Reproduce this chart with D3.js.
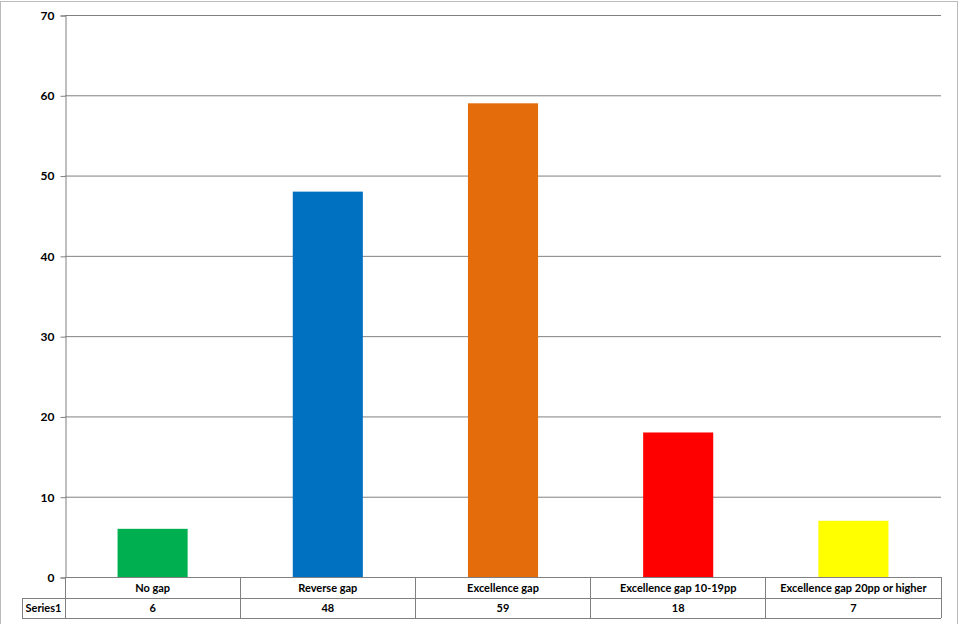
<!DOCTYPE html><html><head><meta charset="utf-8"><script src="https://cdn.jsdelivr.net/npm/d3@7"></script>
<style>body{margin:0;background:#fff}text{font-family:Lato,sans-serif;font-weight:bold;font-size:11px;fill:#000}</style></head><body>
<svg id="c" width="960" height="624"></svg>
<script>
const categories=["No gap","Reverse gap","Excellence gap","Excellence gap 10-19pp","Excellence gap 20pp or higher"];
const values=[6,48,59,18,7];
const colors=["#00b050","#0070c0","#e46c0a","#ff0000","#ffff00"];
const seriesName="Series1";
const yTicks=[0,10,20,30,40,50,60,70];
const svg=d3.select("#c");
const L=65,R=941,T=15,B=577;
svg.append("rect").attr("x",0.5).attr("y",1.5).attr("width",957).attr("height",640).attr("fill","none").attr("stroke","#bbb");
const x=d3.scaleBand().domain(categories).range([L,R]).paddingInner(0.6).paddingOuter(0.3);
const xb=d3.scaleBand().domain(categories).range([L,R]);
const y=d3.scaleLinear().domain([0,70]).range([B,T]);
const g=svg.append("g");
g.selectAll("line.grid").data(yTicks.slice(1)).join("line").attr("x1",L).attr("x2",R).attr("y1",d=>y(d)+0.5).attr("y2",d=>y(d)+0.5).attr("stroke","#808080");
const ya=svg.append("g").attr("transform",`translate(${L+0.5},0.5)`).call(d3.axisLeft(y).tickValues(yTicks).tickSize(5).tickPadding(6));
ya.select(".domain").attr("stroke","#808080");ya.selectAll("line").attr("stroke","#808080");
ya.selectAll("text").style("font-size","12px");
svg.selectAll("rect.bar").data(values).join("rect").attr("x",(d,i)=>x(categories[i])).attr("width",x.bandwidth()).attr("y",d=>y(d)).attr("height",d=>B-y(d)).attr("fill",(d,i)=>colors[i]);
// table
const r1=598,r2=618,lc="#808080";
const tg=svg.append("g").attr("stroke",lc).attr("shape-rendering","crispEdges");
tg.append("line").attr("x1",L).attr("x2",R).attr("y1",B).attr("y2",B);
tg.append("line").attr("x1",22).attr("x2",R).attr("y1",r1).attr("y2",r1);
tg.append("line").attr("x1",22).attr("x2",R).attr("y1",r2).attr("y2",r2);
tg.append("line").attr("x1",22).attr("x2",22).attr("y1",r1).attr("y2",r2);
tg.append("line").attr("x1",L).attr("x2",L).attr("y1",B).attr("y2",r2);
categories.forEach(c=>{tg.append("line").attr("x1",xb(c)+xb.bandwidth()).attr("x2",xb(c)+xb.bandwidth()).attr("y1",B).attr("y2",r2);});
svg.selectAll("text.cat").data(categories).join("text").attr("x",d=>xb(d)+xb.bandwidth()/2).attr("y",592).attr("text-anchor","middle").text(d=>d);
svg.selectAll("text.val").data(values).join("text").attr("x",(d,i)=>xb(categories[i])+xb.bandwidth()/2).attr("y",612).attr("text-anchor","middle").text(d=>d);
svg.append("text").attr("x",43.5).attr("y",612).attr("text-anchor","middle").text(seriesName);
</script></body></html>
